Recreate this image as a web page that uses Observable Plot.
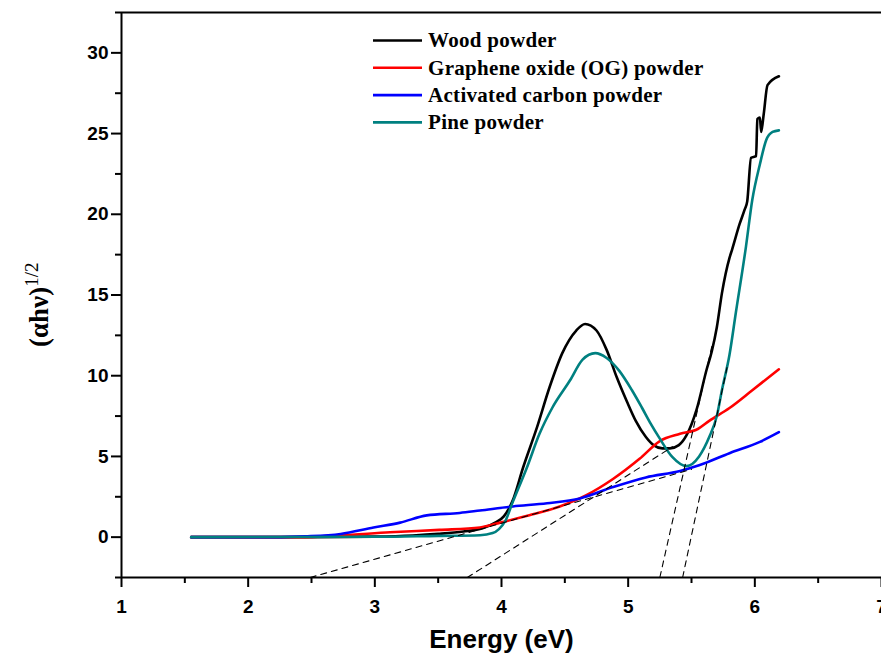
<!DOCTYPE html>
<html><head><meta charset="utf-8">
<script src="https://cdn.jsdelivr.net/npm/d3@7"></script>
<script src="https://cdn.jsdelivr.net/npm/@observablehq/plot@0.6"></script>
<style>body{margin:0;background:#fff;} #chart{width:881px;height:662px;}</style>
</head><body><div id="chart"></div>
<script>
const seriesNames = ["Wood powder", "Graphene oxide (OG) powder", "Activated carbon powder", "Pine powder"];
const seriesColors = ["#000000", "#ff0000", "#0000ff", "#008080"];

const woodE = [1.55, 2.5, 3.0, 3.3, 3.5, 3.7, 3.85, 3.95, 4.02, 4.09, 4.17, 4.28, 4.38, 4.48, 4.59, 4.66, 4.75, 4.83, 4.91, 4.99, 5.06, 5.14, 5.2, 5.27, 5.33, 5.4, 5.46, 5.54, 5.62, 5.66, 5.70, 5.74, 5.80, 5.82, 5.88, 5.92, 5.94, 5.97, 6.01, 6.02, 6.04, 6.05, 6.07, 6.10, 6.19];
const woodY = [0, 0, 0.03, 0.1, 0.2, 0.35, 0.55, 0.9, 1.3, 2.3, 4.3, 6.8, 9.3, 11.4, 12.8, 13.2, 12.8, 11.6, 9.9, 8.4, 7.2, 6.2, 5.7, 5.5, 5.5, 5.7, 6.3, 7.9, 10.4, 11.5, 13.0, 15.1, 17.3, 17.8, 19.4, 20.3, 20.8, 23.5, 23.6, 25.9, 26.0, 25.1, 26.2, 28.0, 28.55];

const goE = [1.55, 2.4, 2.73, 3.12, 3.51, 3.83, 3.99, 4.22, 4.46, 4.67, 4.88, 5.09, 5.25, 5.41, 5.55, 5.64, 5.8, 5.98, 6.19];
const goY = [0, 0, 0.1, 0.3, 0.45, 0.6, 0.9, 1.35, 1.9, 2.6, 3.6, 4.85, 5.95, 6.4, 6.7, 7.2, 8.0, 9.1, 10.4];

const acE = [1.55, 2.2, 2.45, 2.73, 2.99, 3.2, 3.41, 3.67, 3.83, 4.09, 4.36, 4.62, 4.88, 5.14, 5.41, 5.56, 5.8, 6.04, 6.19];
const acY = [0, 0, 0.05, 0.2, 0.6, 0.9, 1.35, 1.5, 1.65, 1.9, 2.1, 2.4, 3.1, 3.7, 4.1, 4.45, 5.2, 5.9, 6.5];

const pineE = [1.55, 3.0, 3.5, 3.83, 3.93, 3.98, 4.03, 4.09, 4.2, 4.3, 4.4, 4.54, 4.64, 4.74, 4.83, 4.93, 5.03, 5.11, 5.18, 5.25, 5.35, 5.46, 5.56, 5.64, 5.70, 5.74, 5.80, 5.85, 5.93, 5.98, 6.04, 6.09, 6.14, 6.19];
const pineY = [0, 0.02, 0.08, 0.12, 0.25, 0.5, 1.0, 2.2, 4.3, 6.4, 8.0, 9.7, 11.0, 11.4, 11.1, 10.3, 9.1, 8.0, 7.0, 6.1, 4.95, 4.4, 5.0, 6.2, 7.5, 9.1, 11.3, 13.9, 18.0, 20.9, 23.1, 24.6, 25.1, 25.2];

const dashStartE = [2.49, 3.73, 5.25, 5.43];
const dashStartY = [-2.5, -2.5, -2.5, -2.5];
const dashEndE = [5.5, 5.35, 5.66, 5.78];
const dashEndY = [4.2, 5.6, 11.8, 10.5];

const xDomain = [1, 7];
const yDomain = [-2.5, 32.5];
const xTicks = [1, 2, 3, 4, 5, 6, 7];
const xMinorTicks = [1.5, 2.5, 3.5, 4.5, 5.5, 6.5];
const yTicks = [0, 5, 10, 15, 20, 25, 30];
const yMinorTicks = [-2.5, 2.5, 7.5, 12.5, 17.5, 22.5, 27.5, 32.5];
const xLabel = "Energy (eV)";

const seriesE = [woodE, goE, acE, pineE];
const seriesY = [woodY, goY, acY, pineY];
const rows = [];
seriesNames.forEach((name, i) => {
  seriesE[i].forEach((e, j) => rows.push({E: e, v: seriesY[i][j], series: name}));
});
const dashRows = [];
dashStartE.forEach((e, i) => {
  dashRows.push({E: e, v: dashStartY[i], id: i});
  dashRows.push({E: dashEndE[i], v: dashEndY[i], id: i});
});

const plot = Plot.plot({
  width: 881,
  height: 662,
  marginLeft: 121,
  marginRight: 0,
  marginTop: 12,
  marginBottom: 85,
  style: {fontFamily: "Liberation Sans, Arial, sans-serif", fontSize: "19px", fontWeight: "bold", background: "#fff", overflow: "visible"},
  x: {domain: xDomain},
  y: {domain: yDomain},
  color: {domain: seriesNames, range: seriesColors},
  marks: [
    Plot.line(rows, {x: "E", y: "v", z: "series", stroke: "series", strokeWidth: 2.6, curve: "monotone-x"}),
    Plot.line(dashRows, {x: "E", y: "v", z: "id", stroke: "#000", strokeWidth: 1.1, strokeDasharray: "6,5"}),
    Plot.ruleX([xDomain[0]], {stroke: "#000", strokeWidth: 2}),
    Plot.ruleY([yDomain[0]], {stroke: "#000", strokeWidth: 2}),
    Plot.ruleY([yDomain[1]], {stroke: "#000", strokeWidth: 2}),
    Plot.axisX(xTicks, {tickSize: 10, tickPadding: 12, strokeWidth: 2, stroke: "#000", fill: "#000", label: null, tickFormat: d => String(d)}),
    Plot.axisX(xMinorTicks, {tickSize: 6, strokeWidth: 2, stroke: "#000", label: null, tickFormat: () => ""}),
    Plot.axisY(yTicks, {tickSize: 10, tickPadding: 3, strokeWidth: 2, stroke: "#000", fill: "#000", label: null, tickFormat: d => String(d)}),
    Plot.axisY(yMinorTicks, {tickSize: 6, strokeWidth: 2, stroke: "#000", label: null, tickFormat: () => ""}),
    Plot.text([xLabel], {text: d => d, frameAnchor: "bottom", dy: 70, fontSize: 26, fontWeight: "bold", fill: "#000"})
  ]
});
document.getElementById("chart").appendChild(plot);

const svg = d3.select(plot);
// Legend
const lg = svg.append("g").attr("font-family", "Liberation Serif, Times New Roman, serif")
  .attr("font-size", 21).attr("font-weight", "bold").attr("text-anchor", "start")
  .attr("letter-spacing", "0.3px");
seriesNames.forEach((name, i) => {
  const y = 40.5 + i * 27.3;
  lg.append("line").attr("x1", 373).attr("x2", 422).attr("y1", y).attr("y2", y)
    .attr("stroke", seriesColors[i]).attr("stroke-width", 2.6);
  lg.append("text").attr("x", 428).attr("y", y).attr("dy", "0.33em").attr("fill", "#000").text(name);
});
// Y label
const yl = svg.append("text").attr("transform", "translate(48,347) rotate(-90)").attr("text-anchor", "start")
  .attr("font-family", "Liberation Serif, Times New Roman, serif").attr("fill", "#000");
yl.append("tspan").attr("font-size", 27).attr("font-weight", "bold").text("(αhν)");
yl.append("tspan").attr("font-size", 19).attr("font-weight", "normal").attr("dy", -10).text("1/2");
</script>
</body></html>
